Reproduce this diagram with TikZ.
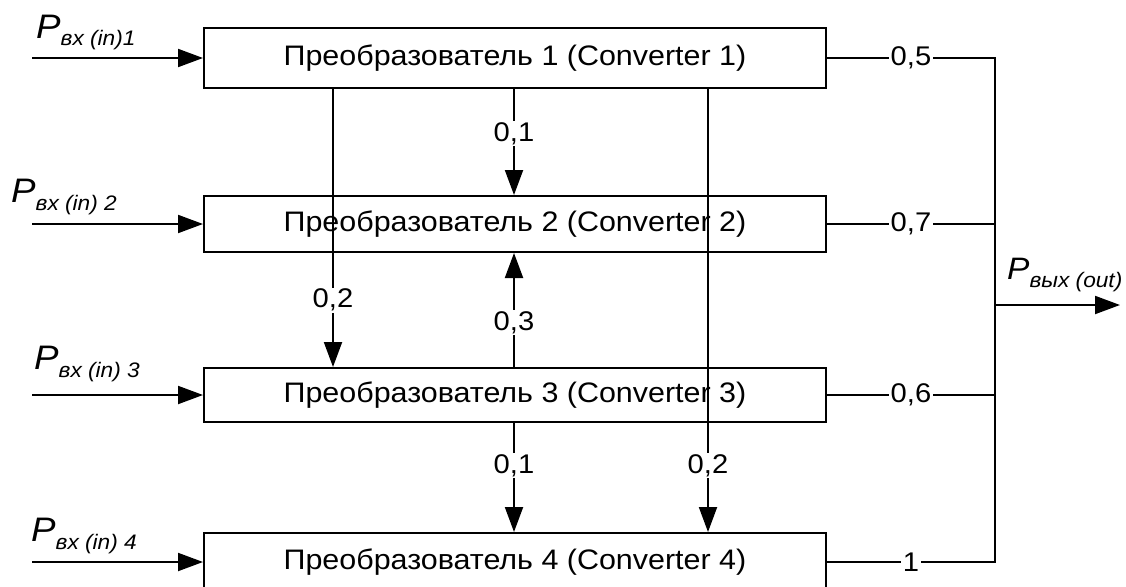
\documentclass[tikz,border=0pt]{standalone}
\usepackage{fontspec}
\setmainfont{Liberation Sans}[FakeStretch=1.08]
\usetikzlibrary{arrows.meta}
\tikzset{
  conv/.style={draw, fill=white, line width=2pt, minimum width=622pt, inner sep=0pt,
    font=\fontsize{28.2}{30}\selectfont},
  wire/.style={line width=2pt},
  arr/.style={wire, -{Triangle[length=25pt,width=18pt]}},
  lbl/.style={fill=white, inner sep=1.5pt, font=\fontsize{27}{30}\selectfont},
  plbl/.style={anchor=base west, inner sep=0pt, font=\fontsize{34}{36}\selectfont\itshape},
}
\newcommand{\psub}[1]{\raisebox{-8pt}{\fontsize{21}{22}\selectfont\itshape #1}}
\begin{document}
\begin{tikzpicture}[x=1pt,y=-1pt]
\useasboundingbox (0,0) rectangle (1126,586);
% converters
\node[conv, minimum height=60pt] (c1) at (515,58) {Преобразователь 1 (Converter 1)};
\node[conv, minimum height=56pt] (c2) at (515,224) {Преобразователь 2 (Converter 2)};
\node[conv, minimum height=54pt] (c3) at (515,395) {Преобразователь 3 (Converter 3)};
\node[conv, minimum height=58pt] (c4) at (515,562) {Преобразователь 4 (Converter 4)};
% helper coordinates
\coordinate (in) at (32,0);
\coordinate (bus) at (995,0);
\coordinate (xa) at (333,0);
\coordinate (xb) at (514,0);
\coordinate (xc) at (708,0);
\coordinate (out) at (1120,305);
% inputs
\draw[arr] (c1.west -| in) -- (c1.west);
\draw[arr] (c2.west -| in) -- (c2.west);
\draw[arr] (c3.west -| in) -- (c3.west);
\draw[arr] (c4.west -| in) -- (c4.west);
\node[plbl] (p1) at (36,38) {P\psub{вх (in)1}};
\node[plbl] (p2) at (11,202) {P\psub{вх (in) 2}};
\node[plbl] (p3) at (34,369) {P\psub{вх (in) 3}};
\node[plbl] (p4) at (31,541) {P\psub{вх (in) 4}};
% vertical links
\draw[arr] (c1.south -| xb) -- node[lbl,pos=0.42] {0,1} (c2.north -| xb);
\draw[arr] (c1.south -| xa) -- node[lbl,pos=0.76] {0,2} (c3.north -| xa);
\draw[arr] (c3.north -| xb) -- node[lbl,pos=0.39] {0,3} (c2.south -| xb);
\draw[arr] (c1.south -| xc) -- node[lbl,pos=0.85] {0,2} (c4.north -| xc);
\draw[arr] (c3.south -| xb) -- node[lbl,pos=0.39] {0,1} (c4.north -| xb);
% outputs
\draw[wire] (c1.east) -- node[lbl] {0,5} (c1.east -| bus) -- (c4.east -| bus) -- node[lbl] {1} (c4.east);
\draw[wire] (c2.east) -- node[lbl] {0,7} (c2.east -| bus);
\draw[wire] (c3.east) -- node[lbl] {0,6} (c3.east -| bus);
\draw[arr] (out -| bus) -- (out);
\node[plbl, font=\fontsize{31}{33}\selectfont\itshape] (pout) at (1007,279) {P\psub{вых (out)}};
\end{tikzpicture}
\end{document}
